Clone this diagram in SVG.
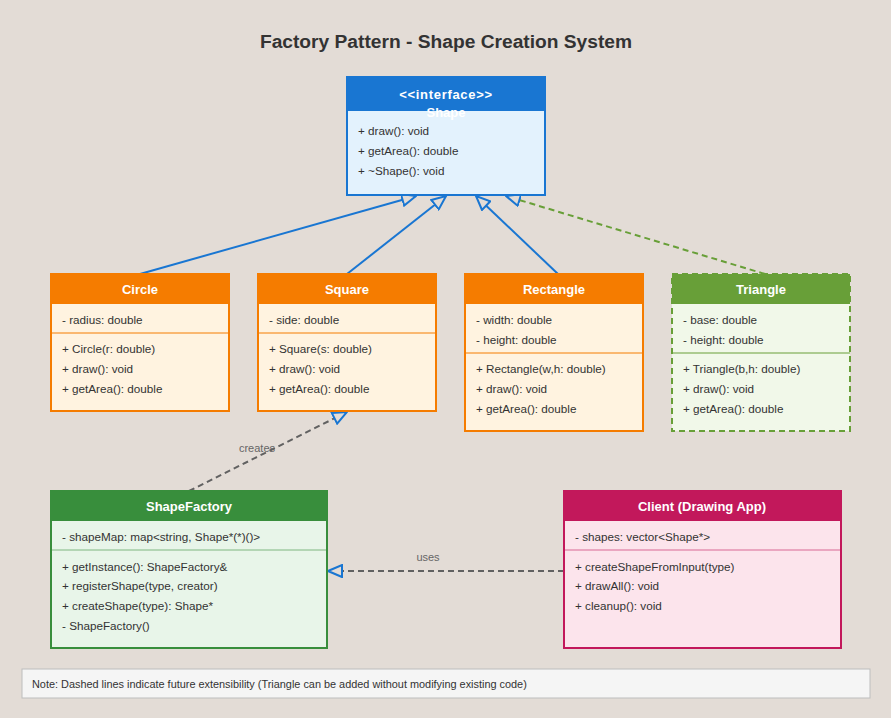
<svg xmlns="http://www.w3.org/2000/svg" width="891" height="718" viewBox="0 0 891 718">
<style>
  text { font-family: "Liberation Sans", Arial, sans-serif; }
  .title { font-size: 19.2px; font-weight: bold; fill: #333; text-anchor: middle; }
  .hd { font-size: 13px; font-weight: bold; fill: #fff; text-anchor: middle; }
  .tx { font-size: 11.7px; fill: #333; }
  .lbl { font-size: 11px; fill: #666; text-anchor: middle; }
  .note { font-size: 10.9px; fill: #333; }
  .inh { stroke: #1976D2; stroke-width: 2; fill: none; marker-end: url(#tri); }
  .dep { stroke: #616161; stroke-width: 2; stroke-dasharray: 6,4; fill: none; marker-end: url(#tri); }
  .ext { stroke: #689F38; stroke-width: 2; stroke-dasharray: 6,4; fill: none; marker-end: url(#tri); }
</style>
<defs>
  <marker id="tri" viewBox="0 0 16 14" refX="15" refY="7" markerWidth="16" markerHeight="14" markerUnits="userSpaceOnUse" orient="auto">
    <path d="M1,1 L15,7 L1,13 Z" fill="#E3DCD6" stroke="#1976D2" stroke-width="2" stroke-dasharray="none"/>
  </marker>
</defs>
<rect width="891" height="718" fill="#E3DCD6"/>
<text class="title" x="446" y="48">Factory Pattern - Shape Creation System</text>

<g id="connectors">
  <line class="inh" x1="140" y1="274" x2="416" y2="196"/>
  <line class="inh" x1="347" y1="274" x2="446" y2="196"/>
  <line class="inh" x1="558" y1="274" x2="476" y2="196"/>
  <line class="ext" x1="765" y1="274" x2="506" y2="196"/>
  <line class="dep" x1="189" y1="491" x2="347" y2="412"/>
  <text class="lbl" x="257" y="452">creates</text>
  <line class="dep" x1="564" y1="571" x2="328" y2="571"/>
  <text class="lbl" x="428" y="561">uses</text>
</g>

<g id="shape">
  <rect x="347" y="77" width="198" height="118" fill="#E3F2FD" stroke="#1976D2" stroke-width="2"/>
  <rect x="347" y="77" width="198" height="34" fill="#1976D2"/>
  <text class="hd" x="446" y="99" letter-spacing="0.7">&lt;&lt;interface&gt;&gt;</text>
  <text class="hd" x="446" y="117">Shape</text>
  <text class="tx" x="358" y="135">+ draw(): void</text>
  <text class="tx" x="358" y="155">+ getArea(): double</text>
  <text class="tx" x="358" y="175">+ ~Shape(): void</text>
</g>

<g id="circle">
  <rect x="51" y="274" width="178" height="137" fill="#FFF3E0" stroke="#F57C00" stroke-width="2"/>
  <rect x="51" y="274" width="178" height="30" fill="#F57C00"/>
  <text class="hd" x="140" y="294">Circle</text>
  <text class="tx" x="62" y="324">- radius: double</text>
  <line x1="51" y1="333" x2="229" y2="333" stroke="#F57C00" stroke-width="1"/>
  <text class="tx" x="62" y="353">+ Circle(r: double)</text>
  <text class="tx" x="62" y="373">+ draw(): void</text>
  <text class="tx" x="62" y="393">+ getArea(): double</text>
</g>

<g id="square">
  <rect x="258" y="274" width="178" height="137" fill="#FFF3E0" stroke="#F57C00" stroke-width="2"/>
  <rect x="258" y="274" width="178" height="30" fill="#F57C00"/>
  <text class="hd" x="347" y="294">Square</text>
  <text class="tx" x="269" y="324">- side: double</text>
  <line x1="258" y1="333" x2="436" y2="333" stroke="#F57C00" stroke-width="1"/>
  <text class="tx" x="269" y="353">+ Square(s: double)</text>
  <text class="tx" x="269" y="373">+ draw(): void</text>
  <text class="tx" x="269" y="393">+ getArea(): double</text>
</g>

<g id="rectangle">
  <rect x="465" y="274" width="178" height="157" fill="#FFF3E0" stroke="#F57C00" stroke-width="2"/>
  <rect x="465" y="274" width="178" height="30" fill="#F57C00"/>
  <text class="hd" x="554" y="294">Rectangle</text>
  <text class="tx" x="476" y="324">- width: double</text>
  <text class="tx" x="476" y="344">- height: double</text>
  <line x1="465" y1="353" x2="643" y2="353" stroke="#F57C00" stroke-width="1"/>
  <text class="tx" x="476" y="373">+ Rectangle(w,h: double)</text>
  <text class="tx" x="476" y="393">+ draw(): void</text>
  <text class="tx" x="476" y="413">+ getArea(): double</text>
</g>

<g id="triangle">
  <rect x="672" y="274" width="178" height="157" fill="#F1F8E9"/>
  <rect x="672" y="274" width="178" height="30" fill="#689F38"/>
  <rect x="672" y="274" width="178" height="157" fill="none" stroke="#689F38" stroke-width="2" stroke-dasharray="6,4"/>
  <text class="hd" x="761" y="294">Triangle</text>
  <text class="tx" x="683" y="324">- base: double</text>
  <text class="tx" x="683" y="344">- height: double</text>
  <line x1="672" y1="353" x2="850" y2="353" stroke="#689F38" stroke-width="1"/>
  <text class="tx" x="683" y="373">+ Triangle(b,h: double)</text>
  <text class="tx" x="683" y="393">+ draw(): void</text>
  <text class="tx" x="683" y="413">+ getArea(): double</text>
</g>

<g id="shapefactory">
  <rect x="51" y="491" width="276" height="157" fill="#E8F5E9" stroke="#388E3C" stroke-width="2"/>
  <rect x="51" y="491" width="276" height="30" fill="#388E3C"/>
  <text class="hd" x="189" y="511">ShapeFactory</text>
  <text class="tx" x="62" y="541">- shapeMap: map&lt;string, Shape*(*)()&gt;</text>
  <line x1="51" y1="550" x2="327" y2="550" stroke="#388E3C" stroke-width="1" opacity="0.6"/>
  <text class="tx" x="62" y="571">+ getInstance(): ShapeFactory&amp;</text>
  <text class="tx" x="62" y="590">+ registerShape(type, creator)</text>
  <text class="tx" x="62" y="610">+ createShape(type): Shape*</text>
  <text class="tx" x="62" y="630">- ShapeFactory()</text>
</g>

<g id="client">
  <rect x="564" y="491" width="277" height="157" fill="#FCE4EC" stroke="#C2185B" stroke-width="2"/>
  <rect x="564" y="491" width="277" height="30" fill="#C2185B"/>
  <text class="hd" x="702" y="511">Client (Drawing App)</text>
  <text class="tx" x="575" y="541">- shapes: vector&lt;Shape*&gt;</text>
  <line x1="564" y1="550" x2="841" y2="550" stroke="#C2185B" stroke-width="1" opacity="0.6"/>
  <text class="tx" x="575" y="571">+ createShapeFromInput(type)</text>
  <text class="tx" x="575" y="590">+ drawAll(): void</text>
  <text class="tx" x="575" y="610">+ cleanup(): void</text>
</g>

<g id="note">
  <rect x="22" y="669" width="848" height="29" fill="#F5F5F5" stroke="#BDBDBD" stroke-width="1"/>
  <text class="note" x="32" y="688">Note: Dashed lines indicate future extensibility (Triangle can be added without modifying existing code)</text>
</g>
</svg>
